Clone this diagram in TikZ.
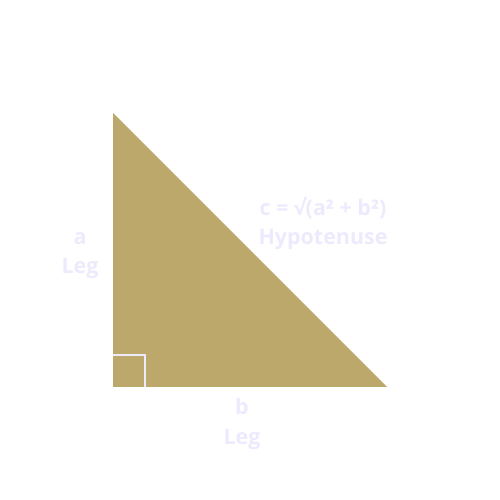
\documentclass[tikz,border=0pt]{standalone}
\usepackage{fontspec}
\setmainfont{Open Sans}
\usetikzlibrary{calc}
\definecolor{legfill}{RGB}{187,168,106}
\definecolor{labelink}{RGB}{236,234,252}

\begin{document}
\begin{tikzpicture}[font=\bfseries]
  \tikzset{every node/.style={inner sep=0.5pt},font={\fontsize{12.2}{16.6}\selectfont\bfseries}}
  \tikzstyle{sidelabel}=[text=labelink,align=center]
  \tikzstyle{corner}=[draw=labelink,line width=1.1pt]

  \def\L{2.26}
  \def\R{7.74}
  \def\m{0.64}

  \useasboundingbox (0,0) rectangle (10,10);

  \coordinate (A) at (\L,\R);
  \coordinate (B) at (\L,\L);
  \coordinate (C) at (\R,\L);

  % triangle
  \fill[legfill] (A) -- (B) -- (C) -- cycle;

  % right angle mark
  \draw[corner] ($(B)+(0,\m)$) -- ++(\m,0) -- ++(0,-\m);

  % labels
  \node[sidelabel] (leg a) at (1.60,4.88) {a\\Leg};
  \node[sidelabel] (leg b) at (4.84,1.52) {b\\Leg};
  \node[sidelabel] (hyp c) at (6.46,5.54) {c = √(a² + b²)\\Hypotenuse};

\end{tikzpicture}
\end{document}
